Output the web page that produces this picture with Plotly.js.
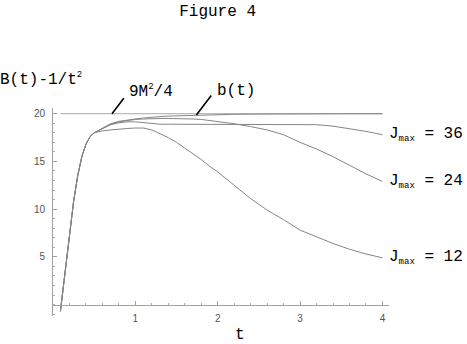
<!DOCTYPE html>
<html>
<head>
<meta charset="utf-8">
<script src="https://cdn.plot.ly/plotly-3.0.1.min.js"></script>
<style>
  html, body { margin: 0; padding: 0; background: #fff; }
  #chart { width: 467px; height: 344px; }
</style>
</head>
<body>
<div id="chart"></div>
<script>
"use strict";

// time grid shared by all curves
var tValues = [0.09, 0.12, 0.15, 0.2, 0.25, 0.3, 0.35, 0.4, 0.45, 0.5, 0.6, 0.7, 0.8, 0.9, 1.0,
    1.1, 1.2, 1.3, 1.4, 1.5, 1.6, 1.7, 1.8, 1.9, 2.0, 2.2, 2.4, 2.6, 2.8, 3.0, 3.2, 3.4, 3.6, 3.8, 4.0];

// B(t) - 1/t^2 for each Jmax, and the limit b(t)
var bCurve = [-0.7, 1.5, 3.6, 7.2, 10.8, 13.5, 15.5, 16.8, 17.6, 18.0, 18.5, 18.95, 19.2, 19.35, 19.45,
    19.55, 19.65, 19.7, 19.75, 19.78, 19.8, 19.83, 19.86, 19.89, 19.91, 19.94, 19.96, 19.98, 19.99, 20.0, 20.0, 20.0, 20.0, 20.0, 20.0];
var jmax36 = [-0.7, 1.5, 3.6, 7.2, 10.8, 13.5, 15.5, 16.8, 17.6, 18.0, 18.45, 18.85, 19.05, 19.15, 19.15,
    19.05, 18.95, 18.9, 18.9, 18.9, 18.9, 18.9, 18.9, 18.9, 18.9, 18.9, 18.9, 18.9, 18.9, 18.9, 18.85, 18.7, 18.45, 18.15, 17.8];
var jmax24 = [-0.7, 1.5, 3.6, 7.2, 10.8, 13.5, 15.5, 16.8, 17.6, 18.0, 18.45, 18.9, 19.15, 19.3, 19.4,
    19.45, 19.5, 19.5, 19.5, 19.5, 19.5, 19.45, 19.4, 19.3, 19.2, 18.95, 18.65, 18.3, 17.8, 17.0, 16.3, 15.5, 14.6, 13.7, 12.9];
var jmax12 = [-0.7, 1.5, 3.6, 7.2, 10.8, 13.5, 15.5, 16.8, 17.6, 18.0, 18.2, 18.3, 18.4, 18.45, 18.5,
    18.5, 18.3, 17.9, 17.5, 17.0, 16.4, 15.8, 15.2, 14.5, 13.9, 12.5, 11.1, 9.9, 8.9, 7.8, 7.1, 6.4, 5.8, 5.3, 4.9];

// the constant 9M^2/4 line
var limitT = [0.09, 4.0];
var limitValue = [20, 20];

var jLabels = ["36", "24", "12"];
var yTicks = [5, 10, 15, 20];
var xTicks = [1, 2, 3, 4];

var xRange = [0, 4.08];
var yRange = [-1.2, 20.6];

var mono = "Liberation Mono, Courier New, monospace";
var curveColor = "#858585";

var traces = [];
traces.push({ x: limitT, y: limitValue, mode: "lines", line: { color: "#a8a8a8", width: 1 } });
traces.push({ x: tValues, y: bCurve, mode: "lines", line: { color: curveColor, width: 1 } });
traces.push({ x: tValues, y: jmax36, mode: "lines", line: { color: curveColor, width: 1 } });
traces.push({ x: tValues, y: jmax24, mode: "lines", line: { color: curveColor, width: 1 } });
traces.push({ x: tValues, y: jmax12, mode: "lines", line: { color: curveColor, width: 1 } });

var ends = [jmax36, jmax24, jmax12];
var annotations = [];

// Jmax labels at the end of each curve
for (var i = 0; i < ends.length; i++) {
    annotations.push({
        x: tValues[tValues.length - 1], y: ends[i][ends[i].length - 1],
        xref: "x", yref: "y", xanchor: "left", yanchor: "middle", xshift: 5,
        text: "J<sub><span style='font-size:9px'>max</span></sub> = " + jLabels[i], showarrow: false,
        font: { family: mono, size: 16, color: "#000" }
    });
}

// pointer for 9M^2/4
annotations.push({ x: 0.716, y: limitValue[0], xref: "x", yref: "y", text: "", showarrow: true,
    arrowhead: 0, arrowwidth: 1.6, arrowcolor: "#000", ax: 13, ay: -17, standoff: 0 });
annotations.push({ x: 0.716, y: limitValue[0], xref: "x", yref: "y",
    text: "9M<sup><span style='font-size:9px'>2</span></sup>/4", showarrow: false,
    xanchor: "left", yanchor: "middle", xshift: 15, yshift: 22, font: { family: mono, size: 16, color: "#000" } });

// pointer for b(t)
annotations.push({ x: 1.741, y: bCurve[22], xref: "x", yref: "y", text: "", showarrow: true,
    arrowhead: 0, arrowwidth: 1.6, arrowcolor: "#000", ax: 16, ay: -21, standoff: 0 });
annotations.push({ x: 1.741, y: bCurve[22], xref: "x", yref: "y", text: "b(t)", showarrow: false,
    xanchor: "left", yanchor: "middle", xshift: 19, yshift: 24, font: { family: mono, size: 16, color: "#000" } });

// axis labels
annotations.push({ x: -0.163, y: 1.135, xref: "paper", yref: "paper", xanchor: "left", yanchor: "middle",
    text: "B(t)-1/t<sup><span style='font-size:9px'>2</span></sup>", showarrow: false,
    font: { family: mono, size: 16, color: "#000" } });
annotations.push({ x: 0.557, y: -0.09, xref: "paper", yref: "paper", xanchor: "center", yanchor: "middle",
    text: "t", showarrow: false, font: { family: mono, size: 16, color: "#000" } });

// x axis crosses at y = 0
var zeroPos = (0 - yRange[0]) / (yRange[1] - yRange[0]);

var layout = {
    width: 467,
    height: 344,
    margin: { l: 53, r: 78, t: 108, b: 28 },
    paper_bgcolor: "#fff",
    plot_bgcolor: "#fff",
    showlegend: false,
    title: {
        text: "Figure 4", x: 0.466, xref: "container", y: 0.97, yanchor: "middle",
        font: { family: mono, size: 16, color: "#000" }
    },
    xaxis: {
        range: xRange, anchor: "free", position: zeroPos, side: "bottom",
        showgrid: false, zeroline: false, showline: true, linecolor: "#a0a0a0", linewidth: 1,
        tickmode: "array", tickvals: xTicks, ticks: "inside", ticklen: 4, tickcolor: "#a0a0a0",
        ticklabelstandoff: 4,
        minor: { tickmode: "linear", tick0: 0, dtick: 0.2, ticks: "inside", ticklen: 2, tickcolor: "#b0b0b0" },
        tickfont: { family: "Liberation Sans, Arial, sans-serif", size: 10, color: "#555" }
    },
    yaxis: {
        range: yRange, showgrid: false, zeroline: false, showline: true, linecolor: "#a0a0a0", linewidth: 1,
        tickmode: "array", tickvals: yTicks, ticks: "inside", ticklen: 4, tickcolor: "#a0a0a0",
        ticklabelstandoff: 5,
        minor: { tickmode: "linear", tick0: 0, dtick: 1, ticks: "inside", ticklen: 2, tickcolor: "#b0b0b0" },
        tickfont: { family: "Liberation Sans, Arial, sans-serif", size: 10, color: "#555" }
    },
    annotations: annotations
};

Plotly.newPlot("chart", traces, layout, { staticPlot: true, displayModeBar: false });
</script>
</body>
</html>
